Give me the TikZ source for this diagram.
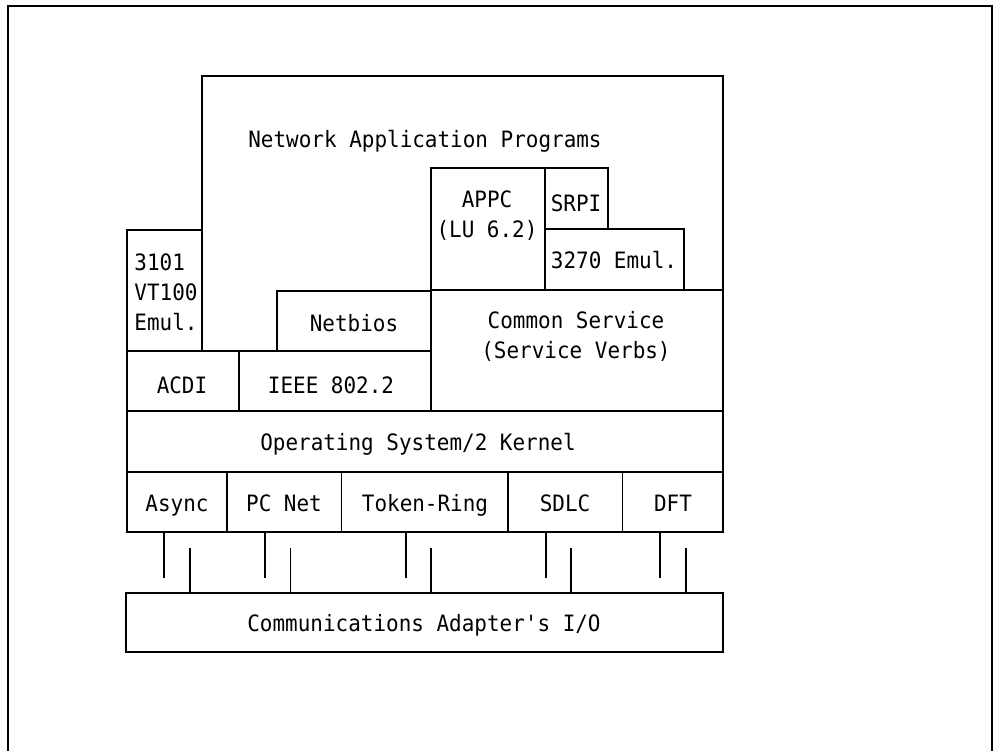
\documentclass[tikz,border=0pt]{standalone}
\usepackage{fontspec}
\setmonofont[FakeStretch=0.93]{DejaVu Sans Mono}
\usetikzlibrary{fit}
\begin{document}
\begin{tikzpicture}[x=0.75pt,y=-0.75pt,
  wire/.style={line width=1.3pt},
  box/.style={draw,line width=1.3pt,inner sep=0pt,outer sep=0pt},
  lbl/.style={font=\ttfamily\fontsize{16.9}{22.5}\selectfont,inner sep=0pt,align=center},
  lbl1/.style={lbl,text height=12.3pt,text depth=0pt}]
\useasboundingbox (0,0) rectangle (1000,751);
% outer frame (open at the bottom)
\draw[wire] (8,751) -- (8,6) -- (992,6) -- (992,751);
% Network Application Programs
\coordinate (napbl) at (202,351);
\coordinate (napr) at (723,290);
\draw[wire] (napbl) -- (202,76) -- (723,76) -- (napr);
\node[lbl1] (napt) at (425,139) {Network Application Programs};
% boxes
\node[box,fit={(127,230) (202,351)}] (emu) {};
\node[lbl,align=left] (emut) at (166,292) {3101\\VT100\\Emul.};
\node[box,fit={(277,291) (431,351)}] (netbios) {};
\node[lbl1] (netbiost) at (354,323) {Netbios};
\node[box,fit={(431,168) (545,290)}] (appc) {};
\node[lbl] (appct) at (487,216) {APPC\\(LU 6.2)};
\node[box,fit={(545,168) (608,229)}] (srpi) {};
\node[lbl1] (srpit) at (576,203) {SRPI};
\node[box,fit={(545,229) (684,290)}] (e3270) {};
\node[lbl1] (e3270t) at (614,260) {3270 Emul.};
\node[box,fit={(431,290) (723,411)}] (cs) {};
\node[lbl] (cst) at (576,336) {Common Service\\(Service Verbs)};
\node[box,fit={(127,351) (239,411)}] (acdi) {};
\node[lbl1] (acdit) at (182,385) {ACDI};
\node[box,fit={(239,351) (431,411)}] (ieee) {};
\node[lbl1] (ieeet) at (331,385) {IEEE 802.2};
\node[box,fit={(127,411) (723,472)}] (kernel) {};
\node[lbl1] (kernelt) at (418,442) {Operating System/2 Kernel};
% drivers
\node[box,fit={(127,472) (227,532)}] (async) {};
\node[lbl1] (asynct) at (177,503) {Async};
\node[box,fit={(227,472) (341.5,532)}] (pcnet) {};
\node[lbl1] (pcnett) at (284,503) {PC Net};
\node[box,fit={(341.5,472) (508,532)}] (tr) {};
\node[lbl1] (trt) at (425,503) {Token-Ring};
\node[box,fit={(508,472) (622.5,532)}] (sdlc) {};
\node[lbl1] (sdlct) at (565,503) {SDLC};
\node[box,fit={(622.5,472) (723,532)}] (dft) {};
\node[lbl1] (dftt) at (673,503) {DFT};
% adapter
\node[box,fit={(126,593) (723,652)}] (comm) {};
\node[lbl1] (commt) at (424,623) {Communications Adapter's I/O};
% connectors
\coordinate (a1) at (164,578);  \draw[wire] (a1 |- async.south) -- (a1);
\coordinate (a2) at (190,548);  \draw[wire] (a2) -- (a2 |- comm.north);
\coordinate (p1) at (265,578);  \draw[wire] (p1 |- pcnet.south) -- (p1);
\coordinate (p2) at (290.5,548);\draw[wire] (p2) -- (p2 |- comm.north);
\coordinate (t1) at (406,578);  \draw[wire] (t1 |- tr.south) -- (t1);
\coordinate (t2) at (431,548);  \draw[wire] (t2) -- (t2 |- comm.north);
\coordinate (s1) at (546,578);  \draw[wire] (s1 |- sdlc.south) -- (s1);
\coordinate (s2) at (571,548);  \draw[wire] (s2) -- (s2 |- comm.north);
\coordinate (d1) at (660,578);  \draw[wire] (d1 |- dft.south) -- (d1);
\coordinate (d2) at (686,548);  \draw[wire] (d2) -- (d2 |- comm.north);
\end{tikzpicture}
\end{document}
